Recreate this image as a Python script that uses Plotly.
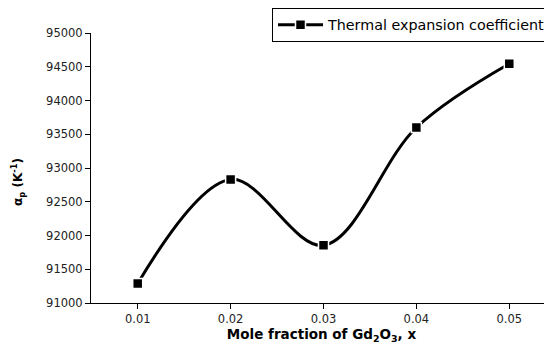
import plotly.graph_objects as go

mole_fraction = [0.01, 0.02, 0.03, 0.04, 0.05]
alpha_p = [91290, 92830, 91855, 93600, 94545]
series_name = "Thermal expansion coefficient"
y_ticks = [91000, 91500, 92000, 92500, 93000, 93500, 94000, 94500, 95000]
x_ticks = [0.01, 0.02, 0.03, 0.04, 0.05]

# page body adds an 8px offset, so figure coords = reference coords - 8
OFF = 8
W, H = 552 - OFF, 344 - OFF
L, T = 91 - OFF, 33 - OFF
R, B = 0, H - (303 - OFF)
pw, ph = W - L - R, H - T - B

fig = go.Figure()
fig.add_trace(go.Scatter(
    x=mole_fraction, y=alpha_p, name=series_name,
    mode="lines+markers",
    line=dict(color="black", width=3, shape="spline", smoothing=1),
    marker=dict(symbol="square", size=10, color="black",
                line=dict(color="white", width=1.5)),
))

font_family = "DejaVu Sans, Liberation Sans, Arial, sans-serif"
fig.update_layout(
    width=W, height=H,
    margin=dict(l=L, r=R, t=T, b=B, autoexpand=False),
    paper_bgcolor="white", plot_bgcolor="white",
    font=dict(family=font_family, color="black", size=11),
    showlegend=True,
    legend=dict(x=(272 - OFF - L) / pw, y=(H - B - (8 - OFF)) / ph,
                xanchor="left", yanchor="top",
                bordercolor="black", borderwidth=1, bgcolor="white",
                font=dict(size=14.3), itemwidth=45,
                tracegroupgap=0),
    xaxis=dict(range=[0.00497, 0.0546], tickvals=x_ticks,
               ticktext=[f"{v:.2f}" for v in x_ticks],
               showline=True, linecolor="black", linewidth=1,
               ticks="outside", ticklen=5, tickcolor="black",
               showgrid=False, zeroline=False, automargin=False,
               tickfont=dict(size=11.5, color="#222"),
               title=dict(text="<b>Mole fraction of Gd<sub>2</sub>O<sub>3</sub>, x</b>",
                          font=dict(size=13.5), standoff=9)),
    yaxis=dict(range=[91000, 95000], tickvals=y_ticks,
               showline=True, linecolor="black", linewidth=1,
               ticks="outside", ticklen=5, tickcolor="black",
               showgrid=False, zeroline=False, automargin=False,
               tickformat="d",
               tickfont=dict(size=11.5, color="#222")),
    annotations=[dict(
        text="<b>α<sub>p</sub> (K<sup>-1</sup>)</b>",
        xref="paper", yref="paper",
        x=(18 - OFF - L) / pw, y=(H - B - (182 - OFF)) / ph,
        xanchor="center", yanchor="middle", textangle=-90,
        showarrow=False, font=dict(size=12),
    )],
)

fig.write_html("out.html")
